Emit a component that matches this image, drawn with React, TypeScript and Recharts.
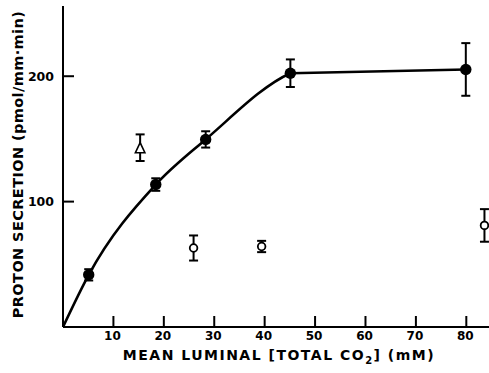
import React from 'react';
import { ComposedChart, XAxis, YAxis, Line, Scatter, ErrorBar } from 'recharts';

// Filled circles (fitted series)
const filledX = [5.1, 18.4, 28.3, 45.1, 79.9];
const filledY = [41.6, 113.6, 149.6, 202.4, 205.4];
const filledErr = [4.5, 5, 6.5, 11, 21];

// Open triangle
const triangleX = [15.3];
const triangleY = [143];
const triangleErr = [10.6];

// Open circles
const openX = [25.9, 39.4, 83.6];
const openY = [63, 64.2, 81];
const openErr = [10, 4.5, 13];

// Fitted curve: rising part and plateau
const riseX = [0, 5.1, 18.4, 28.3, 45.1];
const riseY = [0, 41.6, 113.6, 149.6, 202.4];
const plateauX = [45.1, 79.9];
const plateauY = [202.4, 205.4];

const xTicks = [10, 20, 30, 40, 50, 60, 70, 80];
const yTicks = [100, 200];

const zip = (xs: number[], ys: number[], es?: number[]) =>
  xs.map((x, i) => ({ x, y: ys[i], err: es ? es[i] : 0 }));

const filledData = zip(filledX, filledY, filledErr);
const triangleData = zip(triangleX, triangleY, triangleErr);
const openData = zip(openX, openY, openErr);
const riseData = zip(riseX, riseY);
const plateauData = zip(plateauX, plateauY);

const FONT = '"DejaVu Sans", sans-serif';

// Monotone cubic curve (d3 monotoneX tangents) with an easing end tangent,
// giving a rounded shoulder where the curve meets the plateau.
const sgn = (v: number) => (v < 0 ? -1 : 1);
const shoulderCurve = (context: any) => {
  let pts: number[][] = [];
  return {
    areaStart() {},
    areaEnd() {},
    lineStart() {
      pts = [];
    },
    point(x: number, y: number) {
      pts.push([+x, +y]);
    },
    lineEnd() {
      const n = pts.length;
      if (n === 0) return;
      context.moveTo(pts[0][0], pts[0][1]);
      if (n === 1) return;
      const s: number[] = [];
      for (let i = 0; i < n - 1; i++) {
        s.push((pts[i + 1][1] - pts[i][1]) / (pts[i + 1][0] - pts[i][0]));
      }
      const m: number[] = new Array(n).fill(0);
      for (let i = 1; i < n - 1; i++) {
        const h0 = pts[i][0] - pts[i - 1][0];
        const h1 = pts[i + 1][0] - pts[i][0];
        const p = (s[i - 1] * h1 + s[i] * h0) / (h0 + h1);
        m[i] =
          (sgn(s[i - 1]) + sgn(s[i])) *
            Math.min(Math.abs(s[i - 1]), Math.abs(s[i]), 0.5 * Math.abs(p)) || 0;
      }
      if (n === 2) {
        m[0] = s[0];
        m[1] = s[0];
      } else {
        m[0] = (3 * s[0] - m[1]) / 2;
        m[n - 1] = ((3 * s[n - 2] - m[n - 2]) / 2) * 0.6;
      }
      for (let i = 0; i < n - 1; i++) {
        const [x0, y0] = pts[i];
        const [x1, y1] = pts[i + 1];
        const d = (x1 - x0) / 3;
        context.bezierCurveTo(x0 + d, y0 + d * m[i], x1 - d, y1 - d * m[i + 1], x1, y1);
      }
    },
  };
};

const XTick = (props: any) => {
  const { x, y, payload } = props;
  const ay = y - 3;
  return (
    <g>
      <line x1={x} x2={x} y1={ay} y2={ay - 11} stroke="#000" strokeWidth={2} />
      <text x={x - 1} y={y + 1} dy="0.71em" textAnchor="middle" fontFamily={FONT} fontWeight="bold" fontSize={12} fill="#000">
        {payload.value}
      </text>
    </g>
  );
};

const YTick = (props: any) => {
  const { x, y, payload } = props;
  const ax = x + 9;
  return (
    <g>
      <line x1={ax} x2={ax + 11} y1={y} y2={y} stroke="#000" strokeWidth={2} />
      <text x={x} y={y} dy="0.36em" textAnchor="end" fontFamily={FONT} fontWeight="bold" fontSize={12.5} fill="#000">
        {payload.value}
      </text>
    </g>
  );
};

const FilledDot = (props: any) => {
  const { cx, cy } = props;
  return <circle cx={cx} cy={cy} r={5.7} fill="#000" />;
};

const OpenDot = (props: any) => {
  const { cx, cy } = props;
  return <circle cx={cx} cy={cy} r={3.8} fill="#fff" stroke="#000" strokeWidth={1.8} />;
};

const Triangle = (props: any) => {
  const { cx, cy } = props;
  const h = 10;
  const w = 9.5;
  return (
    <polygon
      points={`${cx},${cy - h / 2} ${cx - w / 2},${cy + h / 2} ${cx + w / 2},${cy + h / 2}`}
      fill="#fff"
      stroke="#000"
      strokeWidth={1.6}
    />
  );
};

const XLabel = (props: any) => {
  const { viewBox } = props;
  const cx = viewBox.x + viewBox.width / 2 + 3;
  const y = 360;
  return (
    <text x={cx} y={y} textAnchor="middle" fontFamily={FONT} fontWeight="bold" fontSize={14} letterSpacing={1.5} fill="#000">
      MEAN LUMINAL [TOTAL CO
      <tspan fontSize={10} dy={4}>2</tspan>
      <tspan dy={-4}>] (mM)</tspan>
    </text>
  );
};

const YLabel = (props: any) => {
  const { viewBox } = props;
  const cy = viewBox.y + viewBox.height / 2 - 2;
  const x = 23;
  return (
    <text
      x={x}
      y={cy}
      transform={`rotate(-90, ${x}, ${cy})`}
      textAnchor="middle"
      fontFamily={FONT}
      fontWeight="bold"
      fontSize={14.5}
      letterSpacing={0.4}
      fill="#000"
    >
      PROTON SECRETION (pmol/mm·min)
    </text>
  );
};

export default function App() {
  return (
    <div style={{ position: 'absolute', left: 0, top: 0, width: 489, height: 373, background: '#fff' }}>
      <ComposedChart width={489} height={373} margin={{ top: 6, right: 0, bottom: 0, left: 0 }}>
        <XAxis
          dataKey="x"
          type="number"
          domain={[0, 84.5]}
          ticks={xTicks}
          allowDataOverflow
          height={46}
          tickSize={0}
          tickMargin={3}
          tickLine={false}
          axisLine={{ stroke: '#000', strokeWidth: 2 }}
          tick={<XTick />}
          label={<XLabel />}
        />
        <YAxis
          dataKey="y"
          type="number"
          domain={[0, 256]}
          ticks={yTicks}
          allowDataOverflow
          width={63}
          tickSize={0}
          tickMargin={9}
          tickLine={false}
          axisLine={{ stroke: '#000', strokeWidth: 2 }}
          tick={<YTick />}
          label={<YLabel />}
        />
        <Line
          data={riseData}
          dataKey="y"
          type={shoulderCurve as any}
          stroke="#000"
          strokeWidth={2.6}
          dot={false}
          activeDot={false}
          isAnimationActive={false}
        />
        <Line
          data={plateauData}
          dataKey="y"
          type="linear"
          stroke="#000"
          strokeWidth={2.6}
          dot={false}
          activeDot={false}
          isAnimationActive={false}
        />
        <Scatter data={filledData} dataKey="y" shape={<FilledDot />} isAnimationActive={false}>
          <ErrorBar dataKey="err" direction="y" width={4.5} stroke="#000" strokeWidth={2} />
        </Scatter>
        <Scatter data={triangleData} dataKey="y" shape={<Triangle />} isAnimationActive={false}>
          <ErrorBar dataKey="err" direction="y" width={4.5} stroke="#000" strokeWidth={2} />
        </Scatter>
        <Scatter data={openData} dataKey="y" shape={<OpenDot />} isAnimationActive={false}>
          <ErrorBar dataKey="err" direction="y" width={4.5} stroke="#000" strokeWidth={2} />
        </Scatter>
      </ComposedChart>
    </div>
  );
}
